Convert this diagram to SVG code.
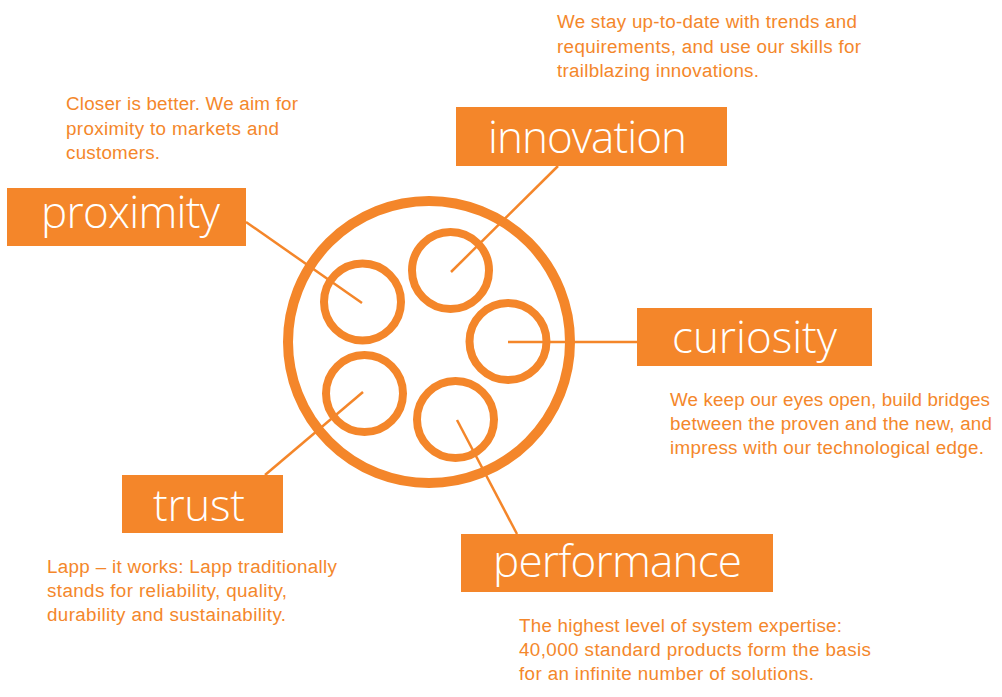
<svg xmlns="http://www.w3.org/2000/svg" width="1002" height="697" viewBox="0 0 1002 697">
  <style>
    .box { fill: #F4862A; }
    .title { font-family: "Open Sans", "Liberation Sans", Arial, sans-serif; font-weight: 300; font-size: 44px; fill: #FFFFFF; }
    .desc { font-family: "Liberation Sans", Arial, sans-serif; font-size: 18.8px; fill: #F4872B; }
    .conn { stroke: #F4862A; stroke-width: 2.5; fill: none; }
    .ring { stroke: #F4862A; fill: none; }
  </style>
  <rect width="1002" height="697" fill="#FFFFFF"/>

  <g id="connectors">
    <line class="conn" x1="246" y1="222" x2="362" y2="303"/>
    <line class="conn" x1="558" y1="166" x2="451" y2="272"/>
    <line class="conn" x1="637" y1="342" x2="508" y2="342"/>
    <line class="conn" x1="265" y1="475" x2="363" y2="392"/>
    <line class="conn" x1="517" y1="534" x2="457" y2="420"/>
  </g>

  <g id="hub">
    <circle class="ring" cx="429" cy="342" r="141" stroke-width="10"/>
    <circle class="ring" cx="362.5" cy="302" r="38.5" stroke-width="8"/>
    <circle class="ring" cx="450.5" cy="270.5" r="38.5" stroke-width="8"/>
    <circle class="ring" cx="508" cy="341.5" r="38.5" stroke-width="8"/>
    <circle class="ring" cx="364.5" cy="393.5" r="38.5" stroke-width="8"/>
    <circle class="ring" cx="455.5" cy="419.5" r="38.5" stroke-width="8"/>
  </g>

  <g id="proximity">
    <rect class="box" x="7" y="188" width="239" height="58"/>
    <text class="title" x="41" y="228" textLength="179">proximity</text>
    <text class="desc" x="66" y="110" textLength="232">Closer is better. We aim for</text>
    <text class="desc" x="66" y="135" textLength="213">proximity to markets and</text>
    <text class="desc" x="66" y="159" textLength="94">customers.</text>
  </g>

  <g id="innovation">
    <rect class="box" x="456" y="107" width="271" height="59"/>
    <text class="title" x="488" y="153" textLength="199">innovation</text>
    <text class="desc" x="557" y="28" textLength="300">We stay up-to-date with trends and</text>
    <text class="desc" x="557" y="53" textLength="304">requirements, and use our skills for</text>
    <text class="desc" x="557" y="77" textLength="202">trailblazing innovations.</text>
  </g>

  <g id="curiosity">
    <rect class="box" x="637" y="308" width="235" height="58"/>
    <text class="title" x="672" y="353" textLength="165">curiosity</text>
    <text class="desc" x="670" y="406" textLength="320">We keep our eyes open, build bridges</text>
    <text class="desc" x="670" y="430" textLength="322">between the proven and the new, and</text>
    <text class="desc" x="670" y="454" textLength="314">impress with our technological edge.</text>
  </g>

  <g id="trust">
    <rect class="box" x="122" y="475" width="161" height="58"/>
    <text class="title" x="153" y="521" textLength="92">trust</text>
    <text class="desc" x="47" y="573" textLength="290">Lapp – it works: Lapp traditionally</text>
    <text class="desc" x="47" y="597" textLength="240">stands for reliability, quality,</text>
    <text class="desc" x="47" y="621" textLength="239">durability and sustainability.</text>
  </g>

  <g id="performance">
    <rect class="box" x="461" y="534" width="312" height="58"/>
    <text class="title" x="493" y="577" textLength="249">performance</text>
    <text class="desc" x="519" y="632" textLength="323">The highest level of system expertise:</text>
    <text class="desc" x="519" y="656" textLength="352">40,000 standard products form the basis</text>
    <text class="desc" x="519" y="680" textLength="295">for an infinite number of solutions.</text>
  </g>
</svg>
